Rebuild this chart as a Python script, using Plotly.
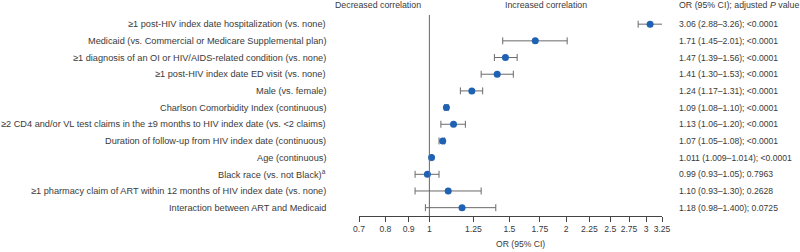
import plotly.graph_objects as go
import math

labels = [
    "≥1 post-HIV index date hospitalization (vs. none)",
    "Medicaid (vs. Commercial or Medicare Supplemental plan)",
    "≥1 diagnosis of an OI or HIV/AIDS-related condition (vs. none)",
    "≥1 post-HIV index date ED visit (vs. none)",
    "Male (vs. female)",
    "Charlson Comorbidity Index (continuous)",
    "≥2 CD4 and/or VL test claims in the ±9 months to HIV index date (vs. <2 claims)",
    "Duration of follow-up from HIV index date (continuous)",
    "Age (continuous)",
    "Black race (vs. not Black)<sup>a</sup>",
    "≥1 pharmacy claim of ART within 12 months of HIV index date (vs. none)",
    "Interaction between ART and Medicaid",
]
odds_ratio = [3.06, 1.71, 1.47, 1.41, 1.24, 1.09, 1.13, 1.07, 1.011, 0.99, 1.10, 1.18]
ci_low = [2.88, 1.45, 1.39, 1.30, 1.17, 1.08, 1.06, 1.05, 1.009, 0.93, 0.93, 0.98]
ci_high = [3.26, 2.01, 1.56, 1.53, 1.31, 1.10, 1.20, 1.08, 1.014, 1.05, 1.30, 1.400]
result_text = [
    "3.06 (2.88–3.26); <0.0001",
    "1.71 (1.45–2.01); <0.0001",
    "1.47 (1.39–1.56); <0.0001",
    "1.41 (1.30–1.53); <0.0001",
    "1.24 (1.17–1.31); <0.0001",
    "1.09 (1.08–1.10); <0.0001",
    "1.13 (1.06–1.20); <0.0001",
    "1.07 (1.05–1.08); <0.0001",
    "1.011 (1.009–1.014); <0.0001",
    "0.99 (0.93–1.05); 0.7963",
    "1.10 (0.93–1.30); 0.2628",
    "1.18 (0.98–1.400); 0.0725",
]
tick_vals = [0.7, 0.8, 0.9, 1, 1.25, 1.5, 1.75, 2, 2.25, 2.5, 2.75, 3, 3.25]
tick_text = ["0.7", "0.8", "0.9", "1", "1.25", "1.5", "1.75", "2", "2.25", "2.5", "2.75", "3", "3.25"]

rows = list(range(len(labels)))
err_plus = [h - o for h, o in zip(ci_high, odds_ratio)]
err_minus = [o - l for o, l in zip(odds_ratio, ci_low)]

W, H = 800, 252
x0, x1 = 359, 662
ytop, ybot = 15, 216.5
FONT = "Liberation Sans, Arial, Helvetica, sans-serif"
TXT = "#3a3a3a"


def dom(px):
    return (px - x0) / (x1 - x0)


def pdom(py):
    return (ybot - py) / (ybot - ytop)


fig = go.Figure()
fig.add_trace(go.Scatter(
    x=odds_ratio, y=rows, mode="markers",
    marker=dict(color="#1f62b3", size=7),
    error_x=dict(type="data", symmetric=False, array=err_plus, arrayminus=err_minus,
                 color="#6a6a6a", thickness=1, width=3.5),
    showlegend=False, hoverinfo="skip",
))

fig.add_shape(type="line", xref="x", yref="paper", x0=1, x1=1, y0=0, y1=1,
              line=dict(color="#666666", width=1))

anns = []
for i, lab in enumerate(labels):
    anns.append(dict(x=dom(328), y=i, xref="x domain", yref="y",
                     text=lab, showarrow=False, xanchor="right", yanchor="middle",
                     font=dict(size=9.2, color=TXT, family=FONT)))
for i, res in enumerate(result_text):
    anns.append(dict(x=dom(677), y=i, xref="x domain", yref="y",
                     text=res, showarrow=False, xanchor="left", yanchor="middle",
                     font=dict(size=8.6, color=TXT, family=FONT)))
headers = [("Decreased correlation", 378, "center"),
           ("Increased correlation", 546, "center"),
           ("OR (95% CI); adjusted <i>P</i> value", 677, "left")]
for t, px, anc in headers:
    anns.append(dict(x=dom(px), y=pdom(5), xref="x domain", yref="paper",
                     text=t, showarrow=False, xanchor=anc, yanchor="middle",
                     font=dict(size=8.8, color=TXT, family=FONT)))
anns.append(dict(x=dom(520), y=pdom(245), xref="x domain", yref="paper",
                 text="OR (95% CI)", showarrow=False, xanchor="center", yanchor="middle",
                 font=dict(size=8.6, color=TXT, family=FONT)))

fig.update_layout(
    width=W, height=H,
    margin=dict(l=x0, r=W - x1, t=ytop, b=H - ybot, pad=0),
    paper_bgcolor="white", plot_bgcolor="white",
    font=dict(family=FONT, size=8.6, color=TXT),
    annotations=anns,
    hovermode=False,
    xaxis=dict(type="log", range=[math.log10(0.7), math.log10(3.25)],
               tickvals=tick_vals, ticktext=tick_text,
               showline=True, linecolor="#444444", linewidth=1,
               ticks="outside", ticklen=5, tickcolor="#444444", tickwidth=1,
               showgrid=False, zeroline=False,
               tickfont=dict(size=8.6, color=TXT, family=FONT)),
    yaxis=dict(range=[11.5, -0.55], showticklabels=False, showgrid=False,
               zeroline=False, showline=False, ticks=""),
)

fig.write_html("out.html", config={"displayModeBar": False, "staticPlot": True},
               post_script="document.body.style.margin='0';document.body.style.overflow='hidden';")
